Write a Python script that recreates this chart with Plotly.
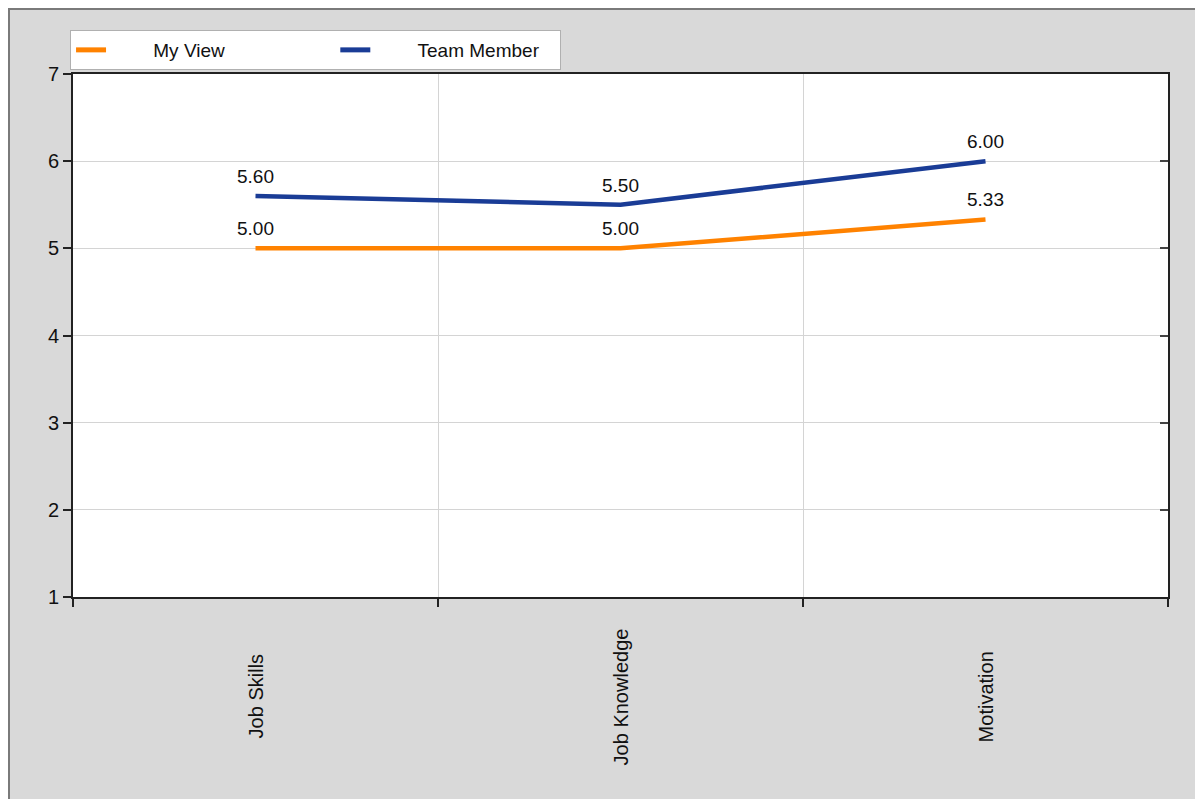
import plotly.graph_objects as go

# data
categories = ["Job Skills", "Job Knowledge", "Motivation"]
my_view = [5.00, 5.00, 5.33]
team_member = [5.60, 5.50, 6.00]

ORANGE = "#ff8200"
BLUE = "#1a3c96"
FONT = "Liberation Sans, Arial, sans-serif"
PAD = "\u00a0" * 8  # pushes legend text right of the swatch

fig = go.Figure()

series = [("My View", my_view, ORANGE, "\u00a0" * 20), ("Team Member", team_member, BLUE, "\u00a0" * 3)]
for name, values, color, tail in series:
    fig.add_trace(go.Scatter(
        x=categories,
        y=values,
        name=name,
        mode="lines+markers+text",
        line=dict(color=color, width=4.5),
        marker=dict(size=12, opacity=0),
        texttemplate="%{y:.2f}",
        textposition="top center",
        textfont=dict(size=19, color="#111"),
        cliponaxis=False,
        showlegend=False,
    ))
    # legend-only entry (plain line swatch)
    fig.add_trace(go.Scatter(
        x=[None], y=[None],
        name=PAD + name + tail,
        mode="lines",
        line=dict(color=color, width=5),
    ))

# invisible trace only to carry the inward ticks on the right side
fig.add_trace(go.Scatter(x=categories, y=my_view, yaxis="y2", mode="none",
                         showlegend=False, hoverinfo="skip"))

# category labels, rotated and centred under each category
for cat in categories:
    fig.add_annotation(x=cat, xref="x", y=-0.191, yref="paper", yanchor="middle",
                       text=cat, textangle=-90, showarrow=False,
                       font=dict(size=20, color="#111", family=FONT))

# dark gray border on the left and top edge of the figure
fig.add_shape(type="line", xref="paper", yref="paper", x0=-0.05936, x1=-0.05936, y0=-0.6, y1=1.1262,
              line=dict(color="#7a7a7a", width=4), layer="below")
fig.add_shape(type="line", xref="paper", yref="paper", x0=-0.05936, x1=1.2, y0=1.1262, y1=1.1262,
              line=dict(color="#7a7a7a", width=4), layer="below")

fig.update_layout(
    width=1203,
    height=799,
    margin=dict(l=65, r=43, t=66, b=210),
    paper_bgcolor="#d9d9d9",
    plot_bgcolor="white",
    font=dict(family=FONT, size=20, color="#111"),
    showlegend=True,
    legend=dict(
        orientation="h",
        x=-0.0027, xanchor="left",
        y=1.0841, yanchor="top",
        bgcolor="white",
        bordercolor="#b0b0b0",
        borderwidth=1,
        font=dict(size=19, color="#111"),
    ),
    xaxis=dict(
        type="category",
        range=[-0.5, 2.5],
        tickson="boundaries",
        ticks="outside",
        ticklen=8,
        tickwidth=2,
        tickcolor="#222",
        showticklabels=False,
        showgrid=True,
        gridcolor="#d4d4d4",
        gridwidth=1,
        showline=True,
        linecolor="#222",
        linewidth=2,
        mirror=True,
        zeroline=False,
    ),
    yaxis=dict(
        range=[1, 7],
        dtick=1,
        ticks="outside",
        ticklen=8,
        tickwidth=2,
        tickcolor="#222",
        tickfont=dict(size=20, color="#111"),
        showgrid=True,
        gridcolor="#d4d4d4",
        gridwidth=1,
        showline=True,
        linecolor="#222",
        linewidth=2,
        mirror=True,
        zeroline=False,
    ),
    yaxis2=dict(
        overlaying="y",
        side="right",
        range=[1, 7],
        dtick=1,
        ticks="inside",
        ticklen=8,
        tickwidth=2,
        tickcolor="#444",
        showticklabels=False,
        showgrid=False,
        zeroline=False,
    ),
)

fig.write_html("out.html")
